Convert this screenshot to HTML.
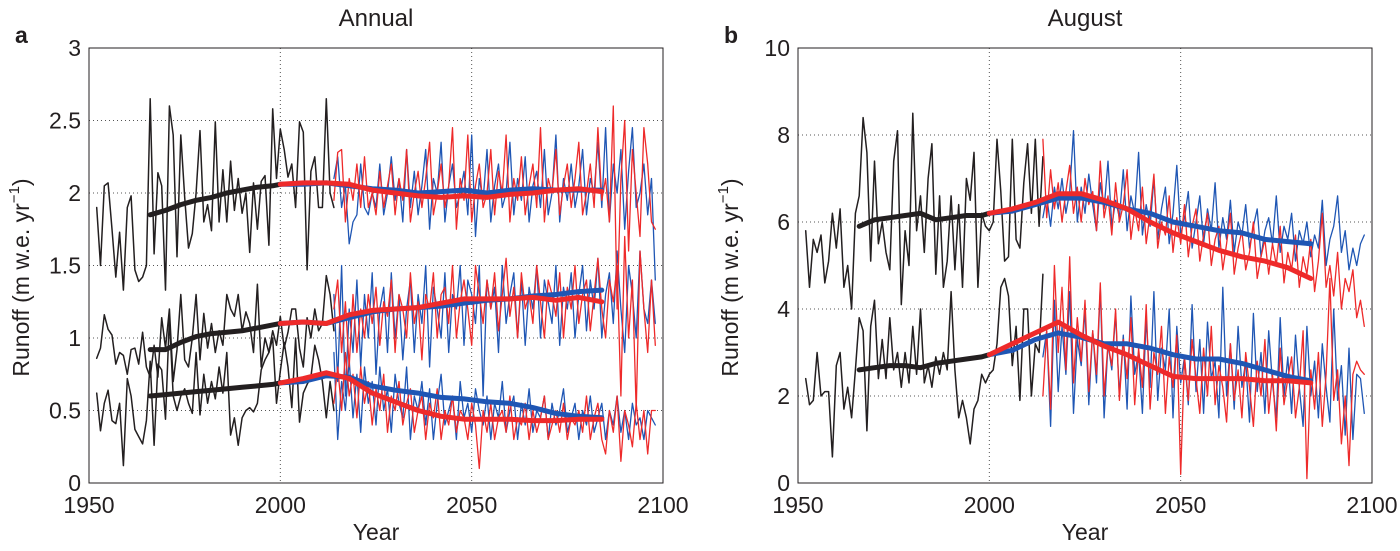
<!DOCTYPE html>
<html><head><meta charset="utf-8"><style>
body{margin:0;background:#fff;}
svg text{font-family:"Liberation Sans",sans-serif;fill:#231f20;}
</style></head><body>
<svg id="chart" width="1400" height="546" viewBox="0 0 1400 546" xmlns="http://www.w3.org/2000/svg"></svg>
<script>
// ---- Panel a (Annual) data ----
const aBlackStart = 1952;
const aBlackTop = [1.9,1.5,2.05,2.07,1.75,1.42,1.73,1.33,1.9,1.98,1.47,1.39,1.42,1.5,2.65,1.58,2.14,2.05,1.33,2.6,2.4,1.56,2.4,1.97,1.62,1.72,2.0,2.43,1.8,1.92,1.74,2.49,1.8,2.16,1.8,2.22,1.88,2.1,1.86,2.0,1.59,2.07,1.75,2.08,2.12,1.64,2.58,2.1,2.44,2.3,2.11,2.2,1.9,2.49,2.42,1.47,2.15,2.25,1.9,1.9,2.65,2.0,1.9];
const aBlackMid = [0.86,0.93,1.16,1.06,1.02,0.82,0.9,0.88,0.75,0.92,0.93,0.82,1.04,0.8,0.73,0.95,0.73,1.14,0.93,1.2,0.7,0.92,1.3,0.85,0.8,1.0,1.3,0.85,1.17,0.93,1.1,0.9,1.05,0.95,1.3,1.2,1.15,1.3,1.05,1.18,1.1,0.9,1.37,0.8,1.0,0.9,1.05,0.95,1.15,0.93,1.04,1.2,1.2,0.93,0.8,1.14,1.0,1.2,1.05,1.1,1.43,1.3,1.05];
const aBlackLow = [0.62,0.36,0.55,0.64,0.43,0.41,0.55,0.12,0.72,0.6,0.37,0.32,0.27,0.43,0.84,0.26,0.82,0.78,0.44,1.14,0.6,0.5,0.6,0.65,0.55,0.48,0.9,0.47,0.75,0.55,0.7,0.58,0.8,0.62,0.9,0.33,0.45,0.26,0.45,0.5,0.52,0.49,0.55,0.78,0.85,0.9,1.0,0.55,0.77,0.97,0.8,0.52,1.0,0.42,0.62,0.68,0.73,0.95,0.85,0.7,0.45,0.7,0.5];
const projStart = 2014;
const aBlueTop = [2.1,2.25,1.9,2.05,1.65,1.8,1.85,2.2,1.9,1.85,2.0,1.9,2.2,1.85,2.0,2.25,1.95,2.1,1.8,2.3,1.9,2.15,1.85,2.05,2.3,1.75,2.1,2.0,2.35,1.8,2.05,2.2,1.9,2.0,2.15,1.85,2.4,1.7,2.1,1.95,2.3,1.8,2.05,2.2,1.9,2.0,2.35,1.85,2.1,1.95,2.25,1.8,2.05,2.15,1.9,2.3,1.85,2.0,2.4,1.8,2.1,1.95,2.2,1.9,2.05,2.3,1.85,2.1,2.0,2.35,1.9,2.45,1.8,2.2,2.0,2.3,1.75,2.15,2.45,1.9,2.0,2.2,1.85,2.1,1.4];
const aRedTop = [1.95,2.28,2.3,1.8,2.1,1.95,2.2,1.9,2.25,1.9,2.0,1.85,2.15,1.9,2.05,2.2,1.85,2.1,1.95,2.3,1.8,2.0,2.15,1.9,2.1,2.35,1.85,2.0,2.2,1.9,2.05,2.45,1.75,2.1,1.95,2.4,1.8,2.05,2.2,1.9,2.0,2.3,1.85,2.15,2.0,2.4,1.8,2.1,1.95,2.25,1.85,2.05,2.2,1.9,2.45,1.8,2.1,2.0,2.3,1.85,2.05,2.2,1.9,2.1,2.35,1.85,2.0,2.2,1.9,2.45,1.95,2.1,1.8,2.6,1.2,2.1,2.5,1.6,2.3,2.0,1.7,2.45,2.2,1.8,1.75];
const aBlueMid = [1.3,0.7,1.5,0.6,1.2,0.9,1.4,0.8,1.3,1.0,1.45,0.75,1.2,1.35,0.9,1.45,1.0,1.3,0.85,1.2,1.4,0.9,1.3,1.1,1.5,0.8,1.35,1.2,1.0,1.45,0.9,1.3,1.2,1.5,0.95,1.4,1.3,1.1,1.5,0.6,1.4,1.2,1.35,0.9,1.5,1.1,1.3,1.45,1.0,1.4,0.95,1.35,1.2,1.5,1.0,1.4,1.25,1.1,1.5,0.95,1.35,1.2,1.45,1.0,1.3,1.5,1.05,1.4,1.2,1.55,1.0,1.3,1.45,1.1,1.6,1.2,0.9,1.5,1.3,1.0,1.6,1.2,1.1,1.4,1.1];
const aRedMid = [1.2,1.4,0.9,1.25,0.8,1.3,0.9,1.2,1.0,1.3,1.1,1.35,0.95,1.25,1.15,1.4,0.9,1.3,1.2,1.0,1.45,1.1,1.25,0.85,1.3,1.2,1.45,1.0,1.3,1.35,1.1,1.5,1.0,1.25,1.4,1.2,0.95,1.5,1.3,1.1,1.4,1.2,1.45,1.05,1.3,1.55,1.15,1.35,1.0,1.45,1.2,1.3,1.1,1.5,1.25,1.0,1.4,1.3,1.15,1.45,1.0,1.35,1.2,1.5,1.1,1.3,1.4,1.05,1.3,1.55,1.2,1.0,1.4,1.25,1.5,0.6,1.7,1.0,1.4,0.5,1.6,1.2,0.9,1.4,0.95];
const aBlueLow = [0.9,0.3,0.7,0.5,0.85,0.45,0.75,0.35,0.8,0.55,0.7,0.4,0.8,0.5,0.65,0.35,0.75,0.55,0.45,0.8,0.3,0.6,0.5,0.7,0.4,0.65,0.3,0.55,0.75,0.4,0.5,0.6,0.3,0.7,0.45,0.55,0.35,0.65,0.5,0.4,0.6,0.3,0.55,0.45,0.7,0.35,0.5,0.6,0.3,0.55,0.4,0.65,0.35,0.5,0.45,0.6,0.3,0.55,0.4,0.5,0.65,0.35,0.45,0.55,0.3,0.5,0.4,0.6,0.35,0.45,0.55,0.3,0.5,0.4,0.6,0.35,0.5,0.3,0.55,0.4,0.45,0.3,0.5,0.45,0.4];
const aRedLow = [0.55,0.8,0.5,0.9,0.6,0.75,0.45,0.8,0.55,0.7,0.4,0.65,0.5,0.75,0.35,0.6,0.5,0.7,0.4,0.55,0.65,0.35,0.5,0.6,0.3,0.55,0.45,0.65,0.3,0.5,0.4,0.6,0.35,0.5,0.45,0.3,0.55,0.4,0.1,0.5,0.35,0.55,0.3,0.45,0.5,0.35,0.6,0.3,0.45,0.4,0.55,0.3,0.5,0.35,0.45,0.6,0.3,0.4,0.5,0.35,0.55,0.3,0.45,0.4,0.5,0.35,0.6,0.3,0.45,0.55,0.3,0.2,0.5,0.35,0.6,0.15,0.5,0.4,0.25,0.55,0.3,0.5,0.2,0.5,0.5];
const smoothBlackYears = [1966,1970,1974,1978,1982,1986,1990,1994,1998,2000];
const smoothProjYears = [2000,2006,2012,2018,2024,2030,2036,2042,2048,2054,2060,2066,2072,2078,2084];
const aSBlackTop = [1.85,1.88,1.92,1.95,1.97,2.0,2.02,2.04,2.05,2.06];
const aSBlueTop = [2.06,2.06,2.07,2.05,2.03,2.02,2.0,2.01,2.02,2.0,2.02,2.03,2.02,2.02,2.02];
const aSRedTop = [2.06,2.07,2.07,2.06,2.02,2.0,1.98,1.97,1.98,1.97,1.99,2.0,2.02,2.03,2.01];
const aSBlackMid = [0.92,0.92,0.97,1.01,1.03,1.04,1.05,1.07,1.09,1.1];
const aSBlueMid = [1.1,1.11,1.1,1.14,1.18,1.2,1.21,1.22,1.24,1.26,1.27,1.29,1.3,1.32,1.33];
const aSRedMid = [1.1,1.11,1.1,1.16,1.19,1.2,1.21,1.24,1.27,1.27,1.27,1.28,1.26,1.28,1.25];
const aSBlackLow = [0.6,0.61,0.62,0.63,0.64,0.65,0.66,0.67,0.68,0.69];
const aSBlueLow = [0.69,0.7,0.74,0.73,0.67,0.64,0.62,0.59,0.58,0.56,0.55,0.52,0.48,0.46,0.45];
const aSRedLow = [0.69,0.72,0.76,0.72,0.62,0.56,0.5,0.46,0.44,0.44,0.44,0.43,0.43,0.44,0.44];
const aYTicks = [0,0.5,1,1.5,2,2.5,3];
const aYTickLabels = ["0","0.5","1","1.5","2","2.5","3"];
// ---- Panel b (August) data ----
const bBlackTop = [5.8,4.5,5.6,5.3,5.7,4.6,5.1,6.2,5.4,6.3,4.5,5.0,4.0,6.2,6.6,8.4,7.6,5.1,7.4,5.5,6.0,5.3,4.9,7.4,8.1,4.1,5.8,5.0,8.5,5.8,6.6,5.3,7.0,7.8,4.8,6.6,4.5,5.1,6.6,4.9,6.4,4.5,7.0,6.5,7.6,4.5,6.2,5.9,5.8,6.0,7.9,6.7,5.1,5.2,7.9,5.6,5.4,6.9,7.8,6.2,7.9,5.9,7.5];
const bBlackBot = [2.4,1.8,1.9,3.0,2.0,2.1,2.1,0.6,2.7,3.0,1.7,2.2,1.5,2.6,3.8,3.5,1.2,3.6,4.2,2.4,3.3,2.4,3.8,2.6,3.0,2.2,3.0,2.3,3.6,2.5,4.0,2.3,2.7,2.2,2.9,2.5,3.0,2.6,4.4,2.6,1.5,1.9,1.5,0.9,1.7,1.9,2.5,2.3,2.5,2.6,3.2,4.5,4.7,4.3,2.7,3.6,1.9,4.0,4.0,2.0,3.2,3.0,4.8];
const bBlueTop = [6.1,6.6,5.9,6.8,6.3,7.0,6.2,6.7,8.1,6.0,6.8,6.2,7.1,6.4,5.8,6.9,6.3,7.4,5.9,6.5,6.1,7.2,5.8,6.6,6.2,7.6,5.7,6.4,5.9,7.0,5.6,6.3,6.8,5.5,6.2,7.3,5.7,6.1,6.7,5.4,6.0,6.6,5.5,6.3,5.8,6.9,5.4,6.1,5.6,6.5,5.3,6.0,5.7,6.4,5.4,5.9,6.3,5.2,5.8,6.1,5.5,6.6,5.3,5.9,5.6,6.2,5.1,5.8,5.5,6.0,5.2,5.7,5.4,6.5,5.0,5.6,5.9,6.6,5.3,5.8,4.9,5.4,5.0,5.5,5.7];
const bRedTop = [7.9,6.1,7.2,6.3,6.9,6.0,6.7,7.3,6.2,6.8,6.0,7.0,6.4,6.7,5.8,7.4,6.1,6.6,5.7,6.9,6.0,6.4,7.2,5.6,6.3,5.8,6.8,5.5,6.2,7.1,5.4,6.0,5.7,6.6,5.3,6.1,5.5,6.4,5.2,5.9,6.3,5.1,5.7,6.2,5.0,5.6,5.9,4.9,5.5,6.2,4.8,5.4,5.8,4.9,5.3,6.0,4.7,5.2,5.6,4.8,5.5,5.0,5.9,4.6,5.3,4.9,5.7,4.5,5.2,4.8,5.6,4.4,5.1,6.2,4.5,5.0,4.3,5.3,4.0,4.7,4.4,4.9,3.8,4.2,3.6];
const bBlueBot = [2.9,3.5,1.3,4.2,2.1,3.6,2.5,4.4,1.6,3.3,2.7,4.0,1.8,3.5,2.3,4.5,1.5,3.2,2.6,3.9,2.0,3.4,1.7,4.3,2.5,3.0,1.6,3.8,2.2,4.4,1.9,3.1,2.6,4.0,1.5,3.6,2.3,2.9,1.8,4.1,2.1,3.3,1.6,3.7,2.4,2.8,1.5,4.5,2.0,3.2,1.7,3.6,2.2,2.8,1.4,3.9,2.1,3.0,1.6,3.5,2.3,1.5,3.8,2.0,2.9,1.6,3.4,2.2,1.3,3.6,2.0,2.8,1.5,3.2,2.2,1.4,4.0,1.9,2.7,1.1,3.1,1.0,2.5,2.4,1.6];
const bRedBot = [2.0,3.5,1.7,5.0,3.0,4.5,2.6,5.2,2.3,3.8,2.8,4.2,2.1,3.5,2.5,4.6,2.0,3.2,2.7,4.0,1.9,3.3,2.4,3.8,1.8,3.1,2.2,4.1,1.7,3.0,2.5,3.6,1.6,2.9,2.2,3.4,0.2,2.9,1.9,3.3,2.4,1.6,3.1,2.0,3.6,1.8,2.7,2.2,1.4,3.2,1.9,2.6,1.5,3.0,2.2,1.3,2.8,2.0,3.3,1.6,2.5,1.2,3.1,1.8,2.4,2.9,1.5,2.2,3.5,0.1,2.6,1.7,3.0,1.3,2.5,4.7,1.9,2.6,0.9,2.0,0.4,2.5,2.8,2.6,2.5];
const bSBlackTop = [5.9,6.05,6.1,6.15,6.2,6.05,6.1,6.15,6.15,6.2];
const bSBlueTop = [6.2,6.25,6.4,6.55,6.55,6.45,6.3,6.2,6.0,5.9,5.8,5.75,5.6,5.55,5.5];
const bSRedTop = [6.2,6.3,6.45,6.65,6.65,6.5,6.3,6.0,5.75,5.55,5.35,5.2,5.1,4.95,4.7];
const bSBlackBot = [2.6,2.65,2.7,2.7,2.65,2.75,2.8,2.85,2.9,2.95];
const bSBlueBot = [2.95,3.05,3.3,3.45,3.35,3.2,3.2,3.1,2.95,2.85,2.85,2.75,2.6,2.45,2.35];
const bSRedBot = [2.95,3.2,3.45,3.7,3.4,3.15,2.95,2.7,2.45,2.4,2.4,2.4,2.35,2.35,2.3];
const bYTicks = [0,2,4,6,8,10];
const bYTickLabels = ["0","2","4","6","8","10"];
const xTicks = [1950,2000,2050,2100];
const xTickLabels = ["1950","2000","2050","2100"];

const NS = "http://www.w3.org/2000/svg";
const svg = document.getElementById('chart');
function mk(tag, attrs, parent){const e=document.createElementNS(NS,tag);for(const k in attrs)e.setAttribute(k,attrs[k]);(parent||svg).appendChild(e);return e;}
const BLACK="#231f20", BLUE="#1f56b4", RED="#ee2a2a";

function panel(cfg){
  const g = mk('g',{});
  
  
  const L=cfg.left,R=cfg.right,T=48,B=483;
  const xs = y => L + (y-1950)/150*(R-L);
  const ys = v => B - (v-cfg.ymin)/(cfg.ymax-cfg.ymin)*(B-T);
  xTicks.forEach((t,i)=>{
    if(i>0 && i<xTicks.length-1){const l=mk('line',{x1:xs(t),x2:xs(t),y1:T,y2:B,stroke:'#555','stroke-width':1,'stroke-dasharray':'1,3'},g);
    
    }
    const tx=mk('text',{x:xs(t),y:B+30,'font-size':23,'text-anchor':'middle'},g);tx.textContent=xTickLabels[i];
    
    
  });
  cfg.yt.forEach((t,i)=>{
    if(i>0 && i<cfg.yt.length-1){const l=mk('line',{x1:L,x2:R,y1:ys(t),y2:ys(t),stroke:'#555','stroke-width':1,'stroke-dasharray':'1,3'},g);
    
    }
    const tx=mk('text',{x:L-8,y:ys(t)+8,'font-size':23,'text-anchor':'end'},g);tx.textContent=cfg.ytl[i];
    
    
  });
  function line(vals, years, color, w, nm){
    const d = vals.map((v,i)=>(i?'L':'M')+xs(years?years[i]:cfg.start+i).toFixed(1)+','+ys(v).toFixed(1)).join('');
    const p=mk('path',{d:d,fill:'none',stroke:color,'stroke-width':w,'stroke-linejoin':'round','stroke-linecap':'round'},g);
    
    
  }
  cfg.rawBlack.forEach(a=>{cfg.start=aBlackStart;line(a,null,BLACK,1.5,'observed-annual-series');});
  cfg.rawBlue.forEach(a=>{cfg.start=projStart;line(a,null,BLUE,1.3,'blue-scenario-series');});
  cfg.rawRed.forEach(a=>{cfg.start=projStart;line(a,null,RED,1.3,'red-scenario-series');});
  cfg.sBlack.forEach(a=>line(a,smoothBlackYears,BLACK,5,'observed-smoothed-line'));
  cfg.sBlue.forEach(a=>line(a,smoothProjYears,BLUE,5,'blue-smoothed-line'));
  cfg.sRed.forEach(a=>line(a,smoothProjYears,RED,5,'red-smoothed-line'));
  const box=mk('rect',{x:L,y:T,width:R-L,height:B-T,fill:'none',stroke:BLACK,'stroke-width':1},g);
  
  
  const ti=mk('text',{x:(L+R)/2,y:26,'font-size':24,'text-anchor':'middle'},g);ti.textContent=cfg.title;
  
  
  const lb=mk('text',{x:L-74,y:43,'font-size':23,'font-weight':'bold'},g);lb.textContent=cfg.letter;
  
  
  const xl=mk('text',{x:(L+R)/2,y:540,'font-size':23,'text-anchor':'middle'},g);xl.textContent='Year';
  
  
  const yl=mk('text',{transform:`translate(${L-60},${(T+B)/2+12}) rotate(-90)`,'font-size':23,'text-anchor':'middle'},g);
  yl.innerHTML='Runoff (m w.e. yr<tspan dy="-10" font-size="15">−1</tspan><tspan dy="10">)</tspan>';
  
  
}
panel({name:'annual-panel',title:'Annual',letter:'a',left:89,right:663,ymin:0,ymax:3,yt:aYTicks,ytl:aYTickLabels,
  rawBlack:[aBlackTop,aBlackMid,aBlackLow],rawBlue:[aBlueTop,aBlueMid,aBlueLow],rawRed:[aRedTop,aRedMid,aRedLow],
  sBlack:[aSBlackTop,aSBlackMid,aSBlackLow],sBlue:[aSBlueTop,aSBlueMid,aSBlueLow],sRed:[aSRedTop,aSRedMid,aSRedLow]});
panel({name:'august-panel',title:'August',letter:'b',left:798,right:1372,ymin:0,ymax:10,yt:bYTicks,ytl:bYTickLabels,
  rawBlack:[bBlackTop,bBlackBot],rawBlue:[bBlueTop,bBlueBot],rawRed:[bRedTop,bRedBot],
  sBlack:[bSBlackTop,bSBlackBot],sBlue:[bSBlueTop,bSBlueBot],sRed:[bSRedTop,bSRedBot]});
</script>
</body></html>
